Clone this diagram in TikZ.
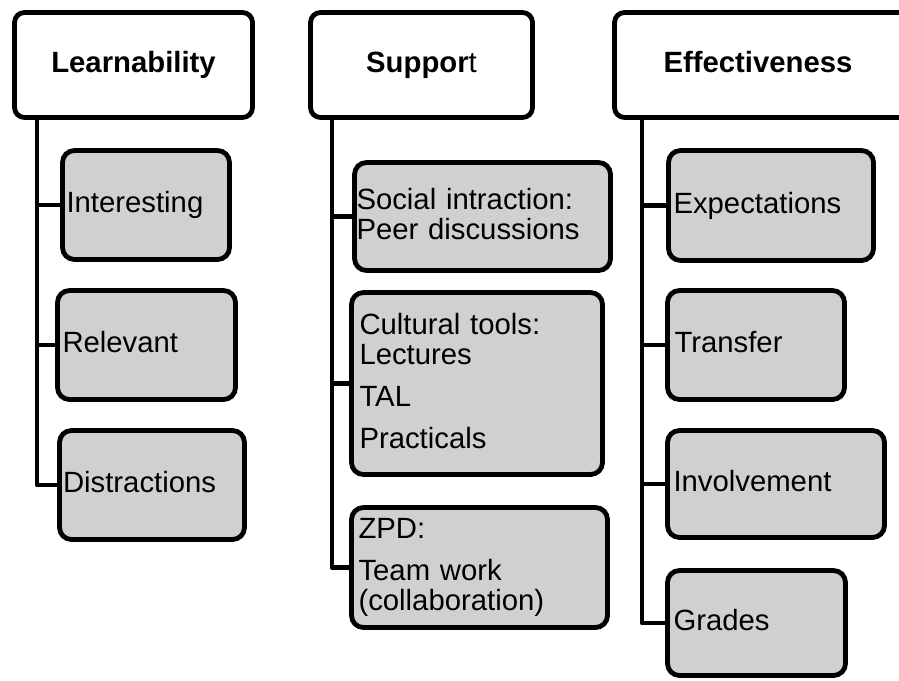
\documentclass[tikz,border=0pt]{standalone}
\usepackage{fontspec}
\setmainfont{Liberation Sans}
\definecolor{boxgray}{RGB}{208,208,208}
\newcommand{\sd}{\vphantom{Ig}}
\tikzset{
  head/.style={draw=black, line width=4.8pt, fill=white, rounded corners=10pt,
    anchor=north west, outer sep=0pt, inner sep=0pt, align=center,
    font=\fontsize{29.3}{30}\selectfont\bfseries},
  sub/.style={draw=black, line width=4.8pt, fill=boxgray, rounded corners=12pt,
    anchor=north west, outer sep=0pt, inner ysep=0pt, align=left,
    font=\fontsize{29.3}{30}\selectfont},
  conn/.style={draw=black, line width=4.5pt, line join=round}
}
\begin{document}
\begin{tikzpicture}[x=1pt,y=-1pt]
\useasboundingbox (0,0) rectangle (899,680);
% headers
\node[head, minimum width=238, minimum height=105] (h1) at (14.5,12.5) {\sd Learnability};
\node[head, minimum width=222, minimum height=105] (h2) at (310.5,12.5) {\sd Suppor\mdseries t};
\node[head, minimum width=310, minimum height=105, align=left, inner xsep=49, text width=212] (h3) at (614.5,12.5) {\sd Effectiveness};
% column 1
\node[sub, minimum width=167, minimum height=109, inner xsep=4, text width=159] (int) at (62.5,150.5) {\sd Interesting};
\node[sub, minimum width=178, minimum height=109, inner xsep=5, text width=168] (rel) at (57.5,290.5) {\sd Relevant};
\node[sub, minimum width=185, minimum height=109, inner xsep=3.5, text width=178] (dis) at (59.5,430.5) {\sd Distractions};
% column 2
\node[sub, minimum width=256, minimum height=108, inner xsep=2, text width=252] (soc) at (354.5,162.5) {\sd Social intraction:\\Peer discussions\sd};
\node[sub, minimum width=251, minimum height=182, inner xsep=8, text width=235] (cul) at (351.5,292.5) {\sd Cultural tools:\\Lectures\\[12pt]TAL\\[12pt]Practicals\sd};
\node[sub, minimum width=256, minimum height=120, inner xsep=7, text width=242] (zpd) at (351.5,507.5) {\sd ZPD:\\[12pt]Team work\\(collaboration)\sd};
% column 3
\node[sub, minimum width=205, minimum height=110, inner xsep=5, text width=195] (exp) at (668.5,150.5) {\sd Expectations};
\node[sub, minimum width=177, minimum height=109, inner xsep=7, text width=163] (tra) at (667.5,290.5) {\sd Transfer};
\node[sub, minimum width=217, minimum height=107, inner xsep=6, text width=205] (inv) at (667.5,430.5) {\sd Involvement};
\node[sub, minimum width=178, minimum height=105, inner xsep=6, text width=166] (gra) at (667.5,570.5) {\sd Grades};
% trunks
\coordinate (t1) at (37,117.5);
\coordinate (t2) at (332,117.5);
\coordinate (t3) at (642,117.5);
\draw[conn] (t1) |- (int.west);
\draw[conn] (t1) |- (rel.west);
\draw[conn] (t1) |- (dis.west);
\draw[conn] (t2) |- (soc.west);
\draw[conn] (t2) |- (cul.west);
\draw[conn] (t2) |- (zpd.west);
\draw[conn] (t3) |- (exp.west);
\draw[conn] (t3) |- (tra.west);
\draw[conn] (t3) |- (inv.west);
\draw[conn] (t3) |- (gra.west);
\end{tikzpicture}
\end{document}
